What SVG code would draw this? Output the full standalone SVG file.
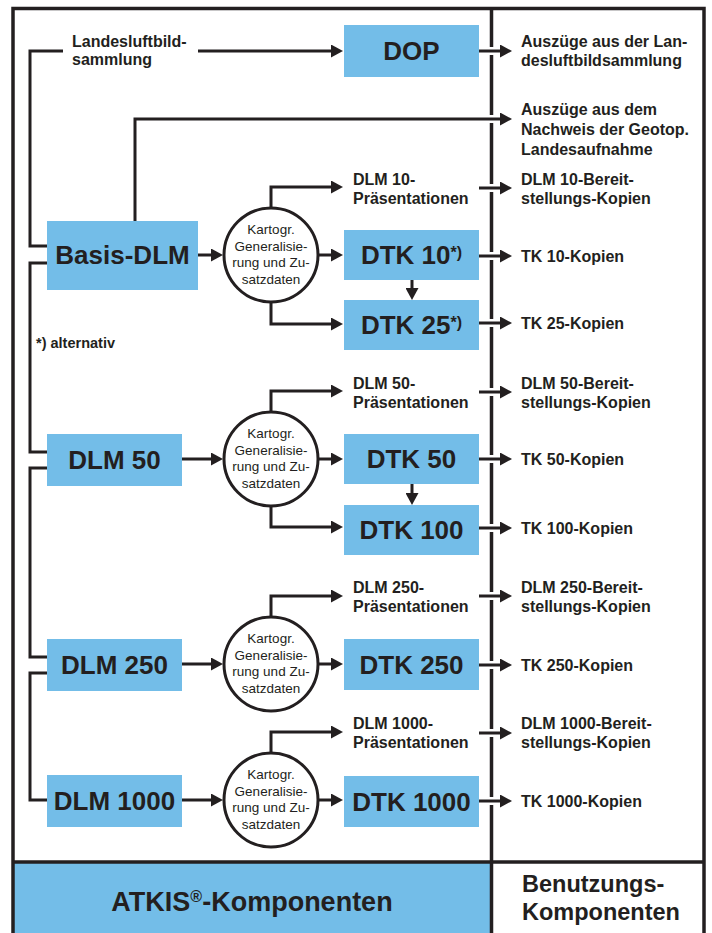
<svg xmlns="http://www.w3.org/2000/svg" width="712" height="933" viewBox="0 0 712 933">
<defs>
<style>
.box{fill:#73BDE8;}
.big{font-family:"Liberation Sans",Arial,sans-serif;font-weight:bold;font-size:26px;fill:#231F20;text-anchor:middle;}
.lbl{font-family:"Liberation Sans",Arial,sans-serif;font-weight:bold;font-size:16px;fill:#231F20;}
.circ{fill:#fff;stroke:#231F20;stroke-width:3;}
.ct{font-family:"Liberation Sans",Arial,sans-serif;font-size:13.5px;fill:#231F20;text-anchor:middle;}
.ln{fill:none;stroke:#231F20;stroke-width:3;}
.ar{fill:none;stroke:#231F20;stroke-width:3;marker-end:url(#ah);}
.halo{stroke:#fff;stroke-width:8;}
.frame{fill:none;stroke:#231F20;stroke-width:3.5;}
.foot{font-family:"Liberation Sans",Arial,sans-serif;font-weight:bold;font-size:23.5px;fill:#231F20;}
.sup{font-size:16px;}
</style>
<marker id="ah" markerWidth="12" markerHeight="13" refX="8" refY="6.5" orient="auto" markerUnits="userSpaceOnUse"><path d="M0,0 L12,6.5 L0,13 z" fill="#231F20"/></marker>
</defs>
<rect x="0" y="0" width="712" height="933" fill="#fff"/>
<g id="footer">
<rect x="14" y="862" width="478" height="80" class="box"/>
<text class="foot" x="252" y="911" text-anchor="middle" style="font-size:27px">ATKIS<tspan class="sup" dy="-9">®</tspan><tspan dy="9">-Komponenten</tspan></text>
<text class="foot" x="522" y="892">Benutzungs-</text>
<text class="foot" x="522" y="920">Komponenten</text>
</g>
<g id="frame">
<rect x="13" y="8.5" width="691" height="940" class="frame"/>
<line x1="491.5" y1="8.5" x2="491.5" y2="933" class="frame"/>
<line x1="13" y1="862" x2="704" y2="862" class="frame"/>
</g>
<g id="connectors">
<g class="halo">
<line x1="486" y1="51" x2="498" y2="51"/>
<line x1="486" y1="119" x2="498" y2="119"/>
<line x1="486" y1="188" x2="498" y2="188"/>
<line x1="486" y1="256" x2="498" y2="256"/>
<line x1="486" y1="323" x2="498" y2="323"/>
<line x1="486" y1="392" x2="498" y2="392"/>
<line x1="486" y1="459" x2="498" y2="459"/>
<line x1="486" y1="528" x2="498" y2="528"/>
<line x1="486" y1="596" x2="498" y2="596"/>
<line x1="486" y1="665" x2="498" y2="665"/>
<line x1="486" y1="733" x2="498" y2="733"/>
<line x1="486" y1="801" x2="498" y2="801"/>
</g>
<path class="ln" d="M63,51 H30 V246 H47"/>
<path class="ln" d="M47,263 H30 V452 H47"/>
<path class="ln" d="M47,468 H30 V657 H47"/>
<path class="ln" d="M47,673 H30 V800 H47"/>
<path class="ar" d="M198,51 H339"/>
<path class="ar" d="M135,221 V119 H508"/>
<path class="ar" d="M479,51 H508"/>
<path class="ar" d="M198,255 H219"/>
<path class="ar" d="M182,459 H219"/>
<path class="ar" d="M182,664 H219"/>
<path class="ar" d="M182,800 H219"/>
<path class="ar" d="M318,255 H339"/>
<path class="ar" d="M318,459 H339"/>
<path class="ar" d="M318,664 H339"/>
<path class="ar" d="M318,800 H339"/>
<path class="ar" d="M271,208 V187 H339"/>
<path class="ar" d="M271,412 V391 H339"/>
<path class="ar" d="M271,617 V596 H339"/>
<path class="ar" d="M271,753 V732 H339"/>
<path class="ar" d="M271,302 V324 H339"/>
<path class="ar" d="M271,506 V527 H339"/>
<path class="ar" d="M412,280 V296"/>
<path class="ar" d="M412,484 V501"/>
<path class="ar" d="M479,188 H508"/>
<path class="ar" d="M479,256 H508"/>
<path class="ar" d="M479,323 H508"/>
<path class="ar" d="M479,392 H508"/>
<path class="ar" d="M479,459 H508"/>
<path class="ar" d="M479,528 H508"/>
<path class="ar" d="M479,596 H508"/>
<path class="ar" d="M479,665 H508"/>
<path class="ar" d="M479,733 H508"/>
<path class="ar" d="M479,801 H508"/>
</g>
<g id="landesluftbild">
<text class="lbl" x="72" y="47">Landesluftbild-</text>
<text class="lbl" x="72" y="65">sammlung</text>
</g>
<g id="dop"><rect class="box" x="344" y="25" width="135" height="52"/><text class="big" x="411.5" y="60">DOP</text></g>
<g id="basis-dlm"><rect class="box" x="47" y="221" width="151" height="69"/><text class="big" x="122.5" y="264">Basis-DLM</text></g>
<g id="dlm50"><rect class="box" x="47" y="434" width="135" height="52"/><text class="big" x="114.5" y="469">DLM 50</text></g>
<g id="dlm250"><rect class="box" x="47" y="639" width="135" height="52"/><text class="big" x="114.5" y="674">DLM 250</text></g>
<g id="dlm1000"><rect class="box" x="47" y="775" width="135" height="52"/><text class="big" x="114.5" y="810">DLM 1000</text></g>
<g id="dtk10"><rect class="box" x="344" y="230" width="135" height="50"/><text class="big" x="411.5" y="264">DTK 10<tspan class="sup" dy="-6">*)</tspan></text></g>
<g id="dtk25"><rect class="box" x="344" y="300" width="135" height="50"/><text class="big" x="411.5" y="334">DTK 25<tspan class="sup" dy="-6">*)</tspan></text></g>
<g id="dtk50"><rect class="box" x="344" y="434" width="135" height="50"/><text class="big" x="411.5" y="468">DTK 50</text></g>
<g id="dtk100"><rect class="box" x="344" y="505" width="135" height="50"/><text class="big" x="411.5" y="539">DTK 100</text></g>
<g id="dtk250"><rect class="box" x="344" y="639" width="135" height="51"/><text class="big" x="411.5" y="674">DTK 250</text></g>
<g id="dtk1000"><rect class="box" x="344" y="776" width="135" height="51"/><text class="big" x="411.5" y="811">DTK 1000</text></g>
<g id="gen1"><circle class="circ" cx="271" cy="255" r="47"/>
<text class="ct" x="271" y="234">Kartogr.</text><text class="ct" x="271" y="250.5">Generalisie-</text><text class="ct" x="271" y="267">rung und Zu-</text><text class="ct" x="271" y="283.5">satzdaten</text></g>
<g id="gen2"><circle class="circ" cx="271" cy="459" r="47"/>
<text class="ct" x="271" y="438">Kartogr.</text><text class="ct" x="271" y="454.5">Generalisie-</text><text class="ct" x="271" y="471">rung und Zu-</text><text class="ct" x="271" y="487.5">satzdaten</text></g>
<g id="gen3"><circle class="circ" cx="271" cy="664" r="47"/>
<text class="ct" x="271" y="643">Kartogr.</text><text class="ct" x="271" y="659.5">Generalisie-</text><text class="ct" x="271" y="676">rung und Zu-</text><text class="ct" x="271" y="692.5">satzdaten</text></g>
<g id="gen4"><circle class="circ" cx="271" cy="800" r="47"/>
<text class="ct" x="271" y="779">Kartogr.</text><text class="ct" x="271" y="795.5">Generalisie-</text><text class="ct" x="271" y="812">rung und Zu-</text><text class="ct" x="271" y="828.5">satzdaten</text></g>
<g id="praes10"><text class="lbl" x="353" y="184.5">DLM 10-</text><text class="lbl" x="353" y="204">Präsentationen</text></g>
<g id="praes50"><text class="lbl" x="353" y="388.5">DLM 50-</text><text class="lbl" x="353" y="408">Präsentationen</text></g>
<g id="praes250"><text class="lbl" x="353" y="592.5">DLM 250-</text><text class="lbl" x="353" y="612">Präsentationen</text></g>
<g id="praes1000"><text class="lbl" x="353" y="728.5">DLM 1000-</text><text class="lbl" x="353" y="748">Präsentationen</text></g>
<g id="note"><text class="lbl" x="36" y="348" style="font-size:14.5px">*) alternativ</text></g>
<g id="out-dop"><text class="lbl" x="521" y="47">Auszüge aus der Lan-</text><text class="lbl" x="521" y="66">desluftbildsammlung</text></g>
<g id="out-nachweis"><text class="lbl" x="521" y="115">Auszüge aus dem</text><text class="lbl" x="521" y="135">Nachweis der Geotop.</text><text class="lbl" x="521" y="155">Landesaufnahme</text></g>
<g id="out-dlm10"><text class="lbl" x="521" y="184.5">DLM 10-Bereit-</text><text class="lbl" x="521" y="204">stellungs-Kopien</text></g>
<g id="out-tk10"><text class="lbl" x="521" y="262">TK 10-Kopien</text></g>
<g id="out-tk25"><text class="lbl" x="521" y="329">TK 25-Kopien</text></g>
<g id="out-dlm50"><text class="lbl" x="521" y="388.5">DLM 50-Bereit-</text><text class="lbl" x="521" y="408">stellungs-Kopien</text></g>
<g id="out-tk50"><text class="lbl" x="521" y="465">TK 50-Kopien</text></g>
<g id="out-tk100"><text class="lbl" x="521" y="534">TK 100-Kopien</text></g>
<g id="out-dlm250"><text class="lbl" x="521" y="592.5">DLM 250-Bereit-</text><text class="lbl" x="521" y="612">stellungs-Kopien</text></g>
<g id="out-tk250"><text class="lbl" x="521" y="671">TK 250-Kopien</text></g>
<g id="out-dlm1000"><text class="lbl" x="521" y="728.5">DLM 1000-Bereit-</text><text class="lbl" x="521" y="748">stellungs-Kopien</text></g>
<g id="out-tk1000"><text class="lbl" x="521" y="807">TK 1000-Kopien</text></g>
</svg>
